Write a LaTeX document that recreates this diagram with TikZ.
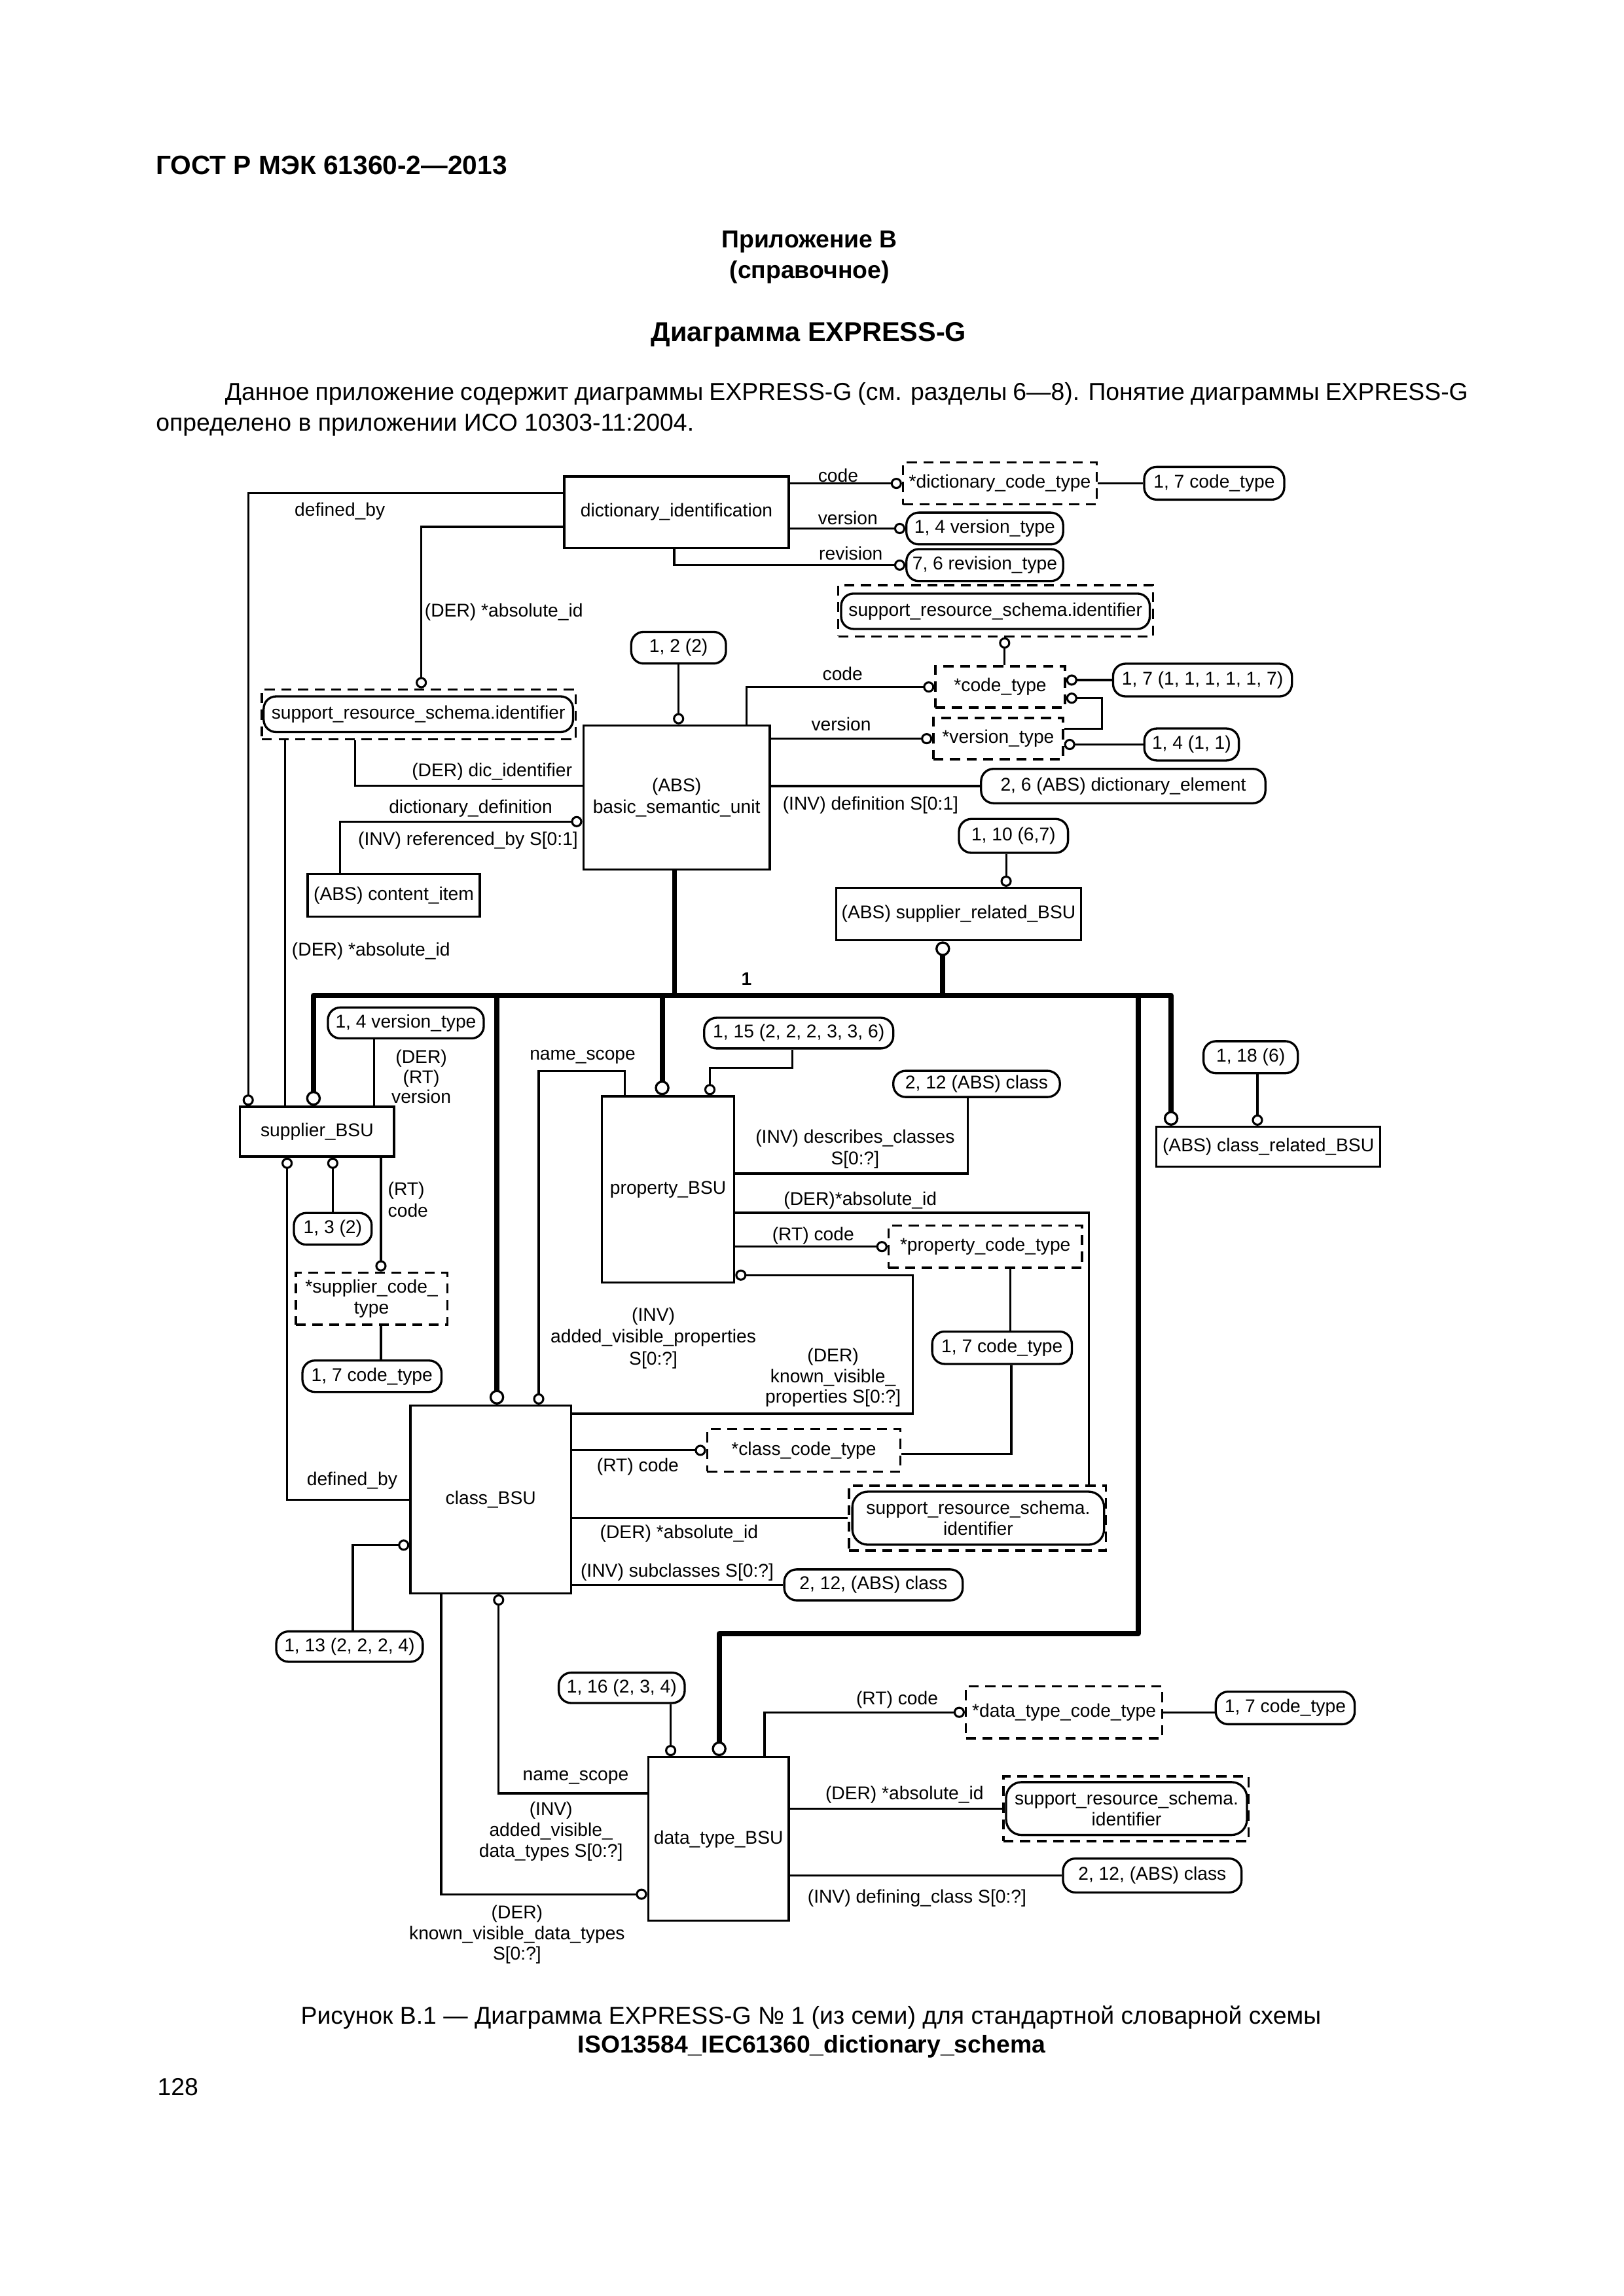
\documentclass[tikz,border=0pt]{standalone}
\usepackage{fontspec}
\setmainfont{Liberation Sans}
\usetikzlibrary{fit,arrows.meta}
\newcommand\dg{\fontsize{6.8}{7.8}\selectfont}
\newcommand\mkframe[6][]{\node[inner sep=0pt,#1,fit={(#3,#4) (#5,#6)}] (#2) {};}
\newcommand\mkbox[7][]{\mkframe[#1]{#2}{#3}{#4}{#5}{#6}\node[lbl] (#2-t) at (#2.center) {#7};}
\begin{document}
\begin{tikzpicture}[x=0.19056mm,y=-0.19056mm,
  ent/.style={draw,line width=0.8pt,inner sep=0pt},
  rbox/.style={ent,rounded corners=1.6mm},
  dbox/.style={ent,dash pattern=on 1.3mm off 0.85mm},
  cn/.style={line width=0.75pt},
  thk/.style={line width=1.9pt,line join=round},
  oc/.style={-{Circle[open,length=1.45mm,width=1.45mm,line width=0.75pt]}},
  Oc/.style={-{Circle[open,length=1.9mm,width=1.9mm,line width=0.8pt]}},
  OO/.style={{Circle[open,length=1.9mm,width=1.9mm,line width=0.8pt]}-{Circle[open,length=1.9mm,width=1.9mm,line width=0.8pt]}},
  lbl/.style={inner sep=0pt,align=center,font=\dg},
  hdr/.style={inner sep=0pt,align=center}]
\useasboundingbox[fill=white] (0,0) rectangle (1102,1558.8);

% ---------- page texts ----------
\node[hdr,anchor=west,font=\fontsize{9.8}{12}\selectfont\bfseries] (hd) at (105.5,112.4) {ГОСТ Р МЭК 61360-2—2013};
\node[hdr,font=\fontsize{9}{11}\selectfont\bfseries] (app) at (549.5,164) {Приложение В};
\node[hdr,font=\fontsize{9}{11}\selectfont\bfseries] (spr) at (549.5,185) {(справочное)};
\node[hdr,font=\fontsize{10}{12}\selectfont\bfseries] (ttl) at (549,227) {Диаграмма EXPRESS-G};
\node[hdr,anchor=west,font=\fontsize{9}{11}\selectfont] (p1) at (152.4,267.5) {\hbox to 160.8mm{Данное приложение содержит диаграммы EXPRESS-G (см. разделы 6—8). Понятие диаграммы EXPRESS-G}};
\node[hdr,anchor=west,font=\fontsize{9}{11}\selectfont] (p2) at (105.5,288.5) {определено в приложении ИСО 10303-11:2004.};
\node[hdr,font=\fontsize{9}{11}\selectfont] (cap1) at (550.5,1369.5) {Рисунок В.1 — Диаграмма EXPRESS-G № 1 (из семи) для стандартной словарной схемы};
\node[hdr,font=\fontsize{9}{11}\selectfont\bfseries] (cap2) at (551,1389.5) {ISO13584\_IEC61360\_dictionary\_schema};
\node[hdr,anchor=west,font=\fontsize{9}{11}\selectfont] (pg) at (106.5,1417) {128};

% ---------- entity boxes ----------
\mkbox[ent]{di}{383}{323.5}{535.5}{372}{dictionary\_identification}
\mkbox[ent]{bsu}{396}{492.5}{522.6}{590.4}{(ABS)\\basic\_semantic\_unit}
\mkbox[ent]{ci}{208.9}{593.5}{325.7}{622.3}{(ABS) content\_item}
\mkbox[ent]{srBSU}{567.7}{602.8}{733.8}{638.4}{(ABS) supplier\_related\_BSU}
\mkbox[ent]{crBSU}{785}{765}{937}{792}{(ABS) class\_related\_BSU}
\mkbox[ent]{supBSU}{163}{751.4}{267.5}{785.2}{supplier\_BSU}
\mkbox[ent]{propBSU}{408.6}{744.3}{498.4}{870.8}{property\_BSU}
\mkbox[ent]{clBSU}{278.6}{954.3}{387.7}{1081.7}{class\_BSU}
\mkbox[ent]{dtBSU}{440}{1193}{535.5}{1304}{data\_type\_BSU}

% ---------- defined types (dashed) ----------
\mkbox[dbox]{dct}{613}{314}{744.5}{342.4}{*dictionary\_code\_type}
\mkbox[dbox]{ct}{635}{452.4}{723}{480.4}{*code\_type}
\mkbox[dbox]{vt}{633.6}{487.5}{721.6}{515.5}{*version\_type}
\mkbox[dbox]{pct}{603.2}{832}{734.5}{860.7}{*property\_code\_type}
\mkbox[dbox]{sct}{200.8}{864}{303.6}{899.4}{*supplier\_code\_\\type}
\mkbox[dbox]{cct}{480}{970.3}{611.3}{999}{*class\_code\_type}
\mkbox[dbox]{dtct}{655.7}{1144.8}{789}{1180.2}{*data\_type\_code\_type}

% ---------- support_resource_schema references ----------
\mkframe[dbox]{srsAo}{569}{397.3}{782.8}{432}
\mkbox[rbox]{srsA}{571}{403}{780.5}{427}{support\_resource\_schema.identifier}
\mkframe[dbox]{srsBo}{177.8}{468}{390.8}{502}
\mkbox[rbox]{srsB}{179}{472.8}{389}{497}{support\_resource\_schema.identifier}
\mkframe[dbox]{srsCo}{576.3}{1008.7}{750.8}{1052.7}
\mkbox[rbox,rounded corners=2mm]{srsC}{578.6}{1012.7}{749.5}{1048.7}{support\_resource\_schema.\\identifier}
\mkframe[dbox]{srsDo}{681.2}{1206}{847.7}{1250}
\mkbox[rbox,rounded corners=2mm]{srsD}{683}{1209.9}{846.5}{1245.8}{support\_resource\_schema.\\identifier}

% ---------- page references (rounded) ----------
\mkbox[rbox]{rA}{776.7}{317}{871.8}{339.2}{1, 7 code\_type}
\mkbox[rbox]{rB}{615.3}{348}{721.7}{369.6}{1, 4 version\_type}
\mkbox[rbox]{rC}{615.3}{372.8}{721.7}{394.5}{7, 6 revision\_type}
\mkbox[rbox]{rD}{428.5}{429}{492.8}{450.5}{1, 2 (2)}
\mkbox[rbox]{rE}{755.6}{450.6}{877}{472.8}{1, 7 (1, 1, 1, 1, 1, 7)}
\mkbox[rbox]{rF}{776.8}{494.6}{841}{516.3}{1, 4 (1, 1)}
\mkbox[rbox]{rG}{666}{522}{859}{545.3}{2, 6 (ABS) dictionary\_element}
\mkbox[rbox]{rH}{651}{556}{725}{579}{1, 10 (6,7)}
\mkbox[rbox]{rI}{817}{706.9}{881}{728.6}{1, 18 (6)}
\mkbox[rbox]{rJ}{606.4}{727}{719.5}{744.8}{2, 12 (ABS) class}
\mkbox[rbox]{rK}{478}{691}{606.4}{711.8}{1, 15 (2, 2, 2, 3, 3, 6)}
\mkbox[rbox]{rL}{222.6}{684}{328.4}{705}{1, 4 version\_type}
\mkbox[rbox]{rM}{199.5}{823.5}{252.3}{845}{1, 3 (2)}
\mkbox[rbox]{rN}{205.3}{923.7}{299.7}{945}{1, 7 code\_type}
\mkbox[rbox]{rO}{632.8}{904}{727.6}{926}{1, 7 code\_type}
\mkbox[rbox]{rP}{532.4}{1065.5}{653.5}{1086.5}{2, 12, (ABS) class}
\mkbox[rbox]{rQ}{187.5}{1107.6}{287}{1128.2}{1, 13 (2, 2, 2, 4)}
\mkbox[rbox]{rR}{379.3}{1135.6}{464.8}{1156.2}{1, 16 (2, 3, 4)}
\mkbox[rbox]{rS}{825.3}{1148.5}{919.6}{1170.6}{1, 7 code\_type}
\mkbox[rbox]{rT}{721.6}{1261.8}{842.8}{1284.8}{2, 12, (ABS) class}

% ---------- labels ----------
\node[lbl] (Ldefby) at (230.7,347) {defined\_by};
\node[lbl,anchor=west] (Labs1) at (288,415.6) {(DER) *absolute\_id};
\node[lbl,anchor=west] (Lcode1) at (555,323) {code};
\node[lbl,anchor=west] (Lver1) at (555,351.5) {version};
\node[lbl,anchor=west] (Lrev) at (555.6,375.5) {revision};
\node[lbl] (Lcode2) at (572,457.5) {code};
\node[lbl] (Lver2) at (571,491.5) {version};
\node[lbl,anchor=west] (Ldef) at (531,546.8) {(INV) definition S[0:1]};
\node[lbl] (Ldic) at (334,524.2) {(DER) dic\_identifier};
\node[lbl] (Ldd) at (319.5,549) {dictionary\_definition};
\node[lbl] (Lref) at (317.7,570.7) {(INV) referenced\_by S[0:1]};
\node[lbl,anchor=west] (Labs2) at (197.8,645.6) {(DER) *absolute\_id};
\node[lbl,font=\dg\bfseries] (Lone) at (506.8,664.8) {1};
\node[lbl,font=\fontsize{6.8}{6.3}\selectfont] (Lderrt) at (286,731) {(DER)\\(RT)\\version};
\node[lbl] (Lns1) at (395.5,717.4) {name\_scope};
\node[lbl,font=\fontsize{6.8}{8}\selectfont] (Ldc) at (580.5,780.3) {(INV) describes\_classes\\S[0:?]};
\node[lbl] (Labs3) at (584,815) {(DER)*absolute\_id};
\node[lbl] (Lrt1) at (552,839) {(RT) code};
\node[lbl,align=left,anchor=west,font=\fontsize{6.8}{8}\selectfont] (Lrt2) at (263,814.3) {(RT)\\code};
\node[lbl,font=\fontsize{6.8}{8.1}\selectfont] (Lavp) at (443.5,908.5) {(INV)\\added\_visible\_properties\\S[0:?]};
\node[lbl,font=\fontsize{6.8}{7.6}\selectfont] (Lkvp) at (565.5,935.4) {(DER)\\known\_visible\_\\properties S[0:?]};
\node[lbl] (Lrt3) at (433,995.8) {(RT) code};
\node[lbl] (Labs4) at (461,1041) {(DER) *absolute\_id};
\node[lbl] (Lsub) at (459.7,1067.5) {(INV) subclasses S[0:?]};
\node[lbl] (Ldefby2) at (239,1005) {defined\_by};
\node[lbl,font=\fontsize{6.8}{7.6}\selectfont] (Lkvdt) at (351,1313.4) {(DER)\\known\_visible\_data\_types\\S[0:?]};
\node[lbl] (Lns2) at (390.8,1207) {name\_scope};
\node[lbl,font=\fontsize{6.8}{7.7}\selectfont] (Lavdt) at (374,1243.5) {(INV)\\added\_visible\_\\data\_types S[0:?]};
\node[lbl] (Lrt4) at (609,1154) {(RT) code};
\node[lbl] (Labs5) at (614,1218.4) {(DER) *absolute\_id};
\node[lbl] (Ldcl) at (622.5,1288.5) {(INV) defining\_class S[0:?]};

% ---------- connectors: top ----------
\draw[cn,oc] (di.west |- 0,335) -| (168.5,0 |- supBSU.north);
\draw[cn,oc] (di.west |- 0,357.7) -| (286,0 |- srsBo.north);
\draw[cn,oc] (457.7,0 |- di.south) |- (rC.west);
\draw[cn,oc] (di.east |- dct.west) -- (dct.west);
\draw[cn,oc] (di.east |- rB.west) -- (rB.west);
\draw[cn] (dct.east) -- (rA.west |- dct.east);
\draw[cn,oc] (682,0 |- ct.north) -- (682,0 |- srsAo.south);
\draw[cn,oc] (506.8,0 |- bsu.north) |- (ct.west);
\draw[cn,oc] (bsu.east |- vt.west) -- (vt.west);
\draw[cn,oc] (rE.west) -- (ct.east |- rE.west);
\coordinate (vk1) at (748,494.6);
\coordinate (vk2) at (748,474);
\draw[cn,oc] (vt.east |- vk1) -- (vk1) -- (vk2) -- (ct.east |- vk2);
\draw[cn,oc] (rF.west) -- (vt.east |- rF.west);
\draw[cn] (bsu.east |- rG.west) -- (rG.west);
\draw[cn,oc] (rD.south) -- (bsu.north -| rD.south);
\draw[cn,oc] (683,0 |- rH.south) -- (683,0 |- srBSU.north);
\draw[cn] (240.9,0 |- srsBo.south) |- (bsu.west |- 0,533.4);
\draw[cn,oc] (230.9,0 |- ci.north) |- (bsu.west |- 0,557.8);
\draw[cn] (193.6,0 |- srsBo.south) -- (193.6,0 |- supBSU.north);

% ---------- subtype tree (thick) ----------
\coordinate (busL) at (212.8,675.8);
\coordinate (busR) at (795,675.8);
\coordinate (jB) at (457.9,675.8);
\coordinate (jS) at (640,675.8);
\coordinate (jC) at (337.3,675.8);
\coordinate (jP) at (449.5,675.8);
\coordinate (jD) at (772.8,675.8);
\coordinate (jD1) at (772.8,1109);
\coordinate (jD2) at (488.2,1109);
\draw[thk,OO] (busL |- supBSU.north) -- (busL) -- (busR) -- (busR |- crBSU.north);
\draw[thk] (jB |- bsu.south) -- (jB);
\draw[thk,Oc] (jS) -- (jS |- srBSU.south);
\draw[thk,Oc] (jC) -- (jC |- clBSU.north);
\draw[thk,Oc] (jP) -- (jP |- propBSU.north);
\draw[thk,Oc] (jD) -- (jD1) -- (jD2) -- (jD2 |- dtBSU.north);
\draw[cn,oc] (853.6,0 |- rI.south) -- (853.6,0 |- crBSU.north);

% ---------- supplier_BSU ----------
\draw[cn] (253.8,0 |- rL.south) -- (253.8,0 |- supBSU.north);
\draw[cn,oc] (clBSU.west |- 0,1018.2) -| (194.9,0 |- supBSU.south);
\draw[cn,oc] (rM.north) -- (rM.north |- supBSU.south);
\draw[cn,oc] (258.6,0 |- supBSU.south) -- (258.6,0 |- sct.north);
\draw[cn] (258.6,0 |- sct.south) -- (258.6,0 |- rN.north);

% ---------- property_BSU ----------
\coordinate (ns1) at (365.7,727.3);
\draw[cn,oc] (424.3,0 |- propBSU.north) |- (ns1) -- (ns1 |- clBSU.north);
\coordinate (pk) at (481.9,725);
\draw[cn,oc] (538,0 |- rK.south) |- (pk) -- (pk |- propBSU.north);
\draw[cn] (propBSU.east |- 0,796.7) -| (657,0 |- rJ.south);
\draw[cn] (propBSU.east |- 0,823.4) -| (739.2,0 |- srsCo.north);
\draw[cn,oc] (propBSU.east |- pct.west) -- (pct.west);
\draw[cn] (686,0 |- pct.south) -- (686,0 |- rO.north);
\draw[cn] (686.5,0 |- rO.south) |- (cct.east |- 0,987);
\coordinate (kv) at (619.5,865.7);
\draw[cn,oc] (clBSU.east |- 0,959.8) -| (kv) -- (propBSU.east |- kv);

% ---------- class_BSU ----------
\draw[cn,oc] (clBSU.east |- cct.west) -- (cct.west);
\draw[cn] (clBSU.east |- srsCo.west) -- (srsCo.west);
\draw[cn] (clBSU.east |- rP.west) -- (rP.west);
\draw[cn,oc] (239.5,0 |- rQ.north) |- (clBSU.west |- 0,1049);
\draw[cn,oc] (299.5,0 |- clBSU.south) |- (dtBSU.west |- 0,1286);
\draw[cn,oc] (dtBSU.west |- 0,1217.5) -| (338.5,0 |- clBSU.south);

% ---------- data_type_BSU ----------
\draw[cn,oc] (455.3,0 |- rR.south) -- (455.3,0 |- dtBSU.north);
\draw[cn,oc] (519,0 |- dtBSU.north) |- (dtct.west);
\draw[cn] (dtct.east) -- (rS.west |- dtct.east);
\draw[cn] (dtBSU.east |- srsDo.west) -- (srsDo.west);
\draw[cn] (dtBSU.east |- rT.west) -- (rT.west);
\end{tikzpicture}
\end{document}
